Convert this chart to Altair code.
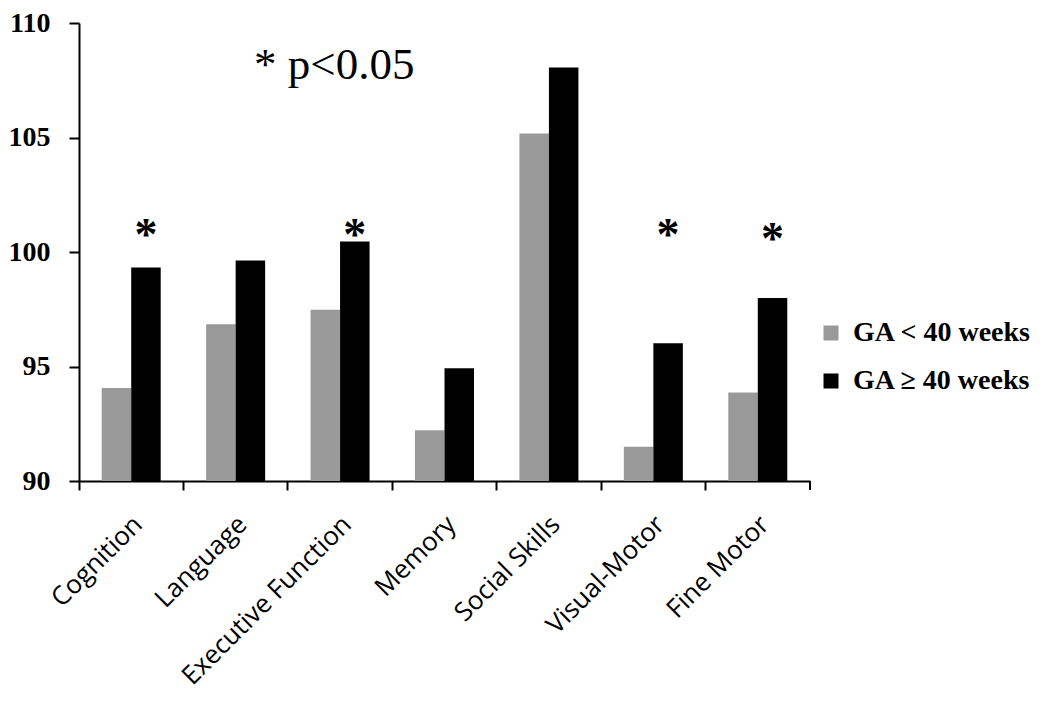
import altair as alt
import pandas as pd

categories = ["Cognition", "Language", "Executive Function", "Memory",
              "Social Skills", "Visual-Motor", "Fine Motor"]
groups = ["GA < 40 weeks", "GA \u2265 40 weeks"]
ga_lt40 = [94.06, 96.85, 97.48, 92.22, 105.18, 91.50, 93.87]
ga_ge40 = [99.32, 99.63, 100.46, 94.92, 108.06, 96.02, 97.99]

star_categories = ["Cognition", "Executive Function", "Visual-Motor", "Fine Motor"]
star_y = [100.97, 100.97, 100.97, 100.80]

y_ticks = [90, 95, 100, 105, 110]
note_text = "* p<0.05"

rows = []
for c, a, b in zip(categories, ga_lt40, ga_ge40):
    rows.append({"category": c, "group": groups[0], "value": a})
    rows.append({"category": c, "group": groups[1], "value": b})
bars_df = pd.DataFrame(rows)
stars_df = pd.DataFrame({"category": star_categories, "group": groups[1], "y": star_y})

W, H = 731, 458
SERIF = "Liberation Serif"

x_enc = alt.X("category:N", sort=categories,
              scale=alt.Scale(domain=categories, paddingInner=0, paddingOuter=0),
              axis=alt.Axis(title=None, labelAngle=-45, labelAlign="right",
                            labelBaseline="middle", labelFont="Open Sans",
                            labelFontSize=26, labelColor="black",
                            labelPadding=30, labelOffset=7, tickSize=9,
                            tickColor="black", tickWidth=2, domainColor="black",
                            domainWidth=2, bandPosition=0, labelLimit=0))
xoff_enc = alt.XOffset("group:N", sort=groups,
                       scale=alt.Scale(domain=groups, paddingInner=0, paddingOuter=0.77))
y_scale = alt.Scale(domain=[90, 110], zero=False, nice=False)

bars = alt.Chart(bars_df).mark_bar().encode(
    x=x_enc,
    xOffset=xoff_enc,
    y=alt.Y("value:Q", scale=y_scale,
            axis=alt.Axis(values=y_ticks, title=None, labelFont=SERIF,
                          labelFontWeight="bold", labelFontSize=28,
                          labelColor="black", labelPadding=19, tickSize=10,
                          tickColor="black", tickWidth=2, domainColor="black",
                          domainWidth=2, grid=False)),
    y2=alt.datum(90),
    color=alt.Color("group:N", sort=groups,
                    scale=alt.Scale(domain=groups, range=["#999999", "#000000"]),
                    legend=alt.Legend(title=None, orient="none", legendX=738,
                                      legendY=296, symbolType="square",
                                      symbolSize=225, symbolStrokeWidth=0,
                                      labelFont=SERIF, labelFontWeight="bold",
                                      labelFontSize=28, labelColor="black",
                                      rowPadding=20, labelOffset=8, labelLimit=0)),
)

stars = alt.Chart(stars_df).mark_text(
    text="*", font=SERIF, fontWeight="bold", fontSize=46,
    baseline="alphabetic", dy=20, color="black"
).encode(
    x=alt.X("category:N", sort=categories),
    xOffset=alt.XOffset("group:N", sort=groups),
    y=alt.Y("y:Q", scale=y_scale),
)

note = alt.Chart(pd.DataFrame({"t": [note_text]})).mark_text(
    font=SERIF, fontSize=45, align="left", baseline="alphabetic", color="black"
).encode(text="t:N", x=alt.value(175), y=alt.value(56))

end_tick = alt.Chart(pd.DataFrame({"t": [0]})).mark_rule(
    color="black", strokeWidth=2
).encode(x=alt.value(W), y=alt.value(H), y2=alt.value(H + 9))

chart = alt.layer(bars, stars, note, end_tick).properties(
    width=W, height=H,
    autosize=alt.AutoSizeParams(type="none"),
    padding={"left": 71, "top": 15, "right": 230, "bottom": 217},
    background="white",
).configure_view(stroke=None)

chart.save("out.html", embed_options={"renderer": "svg", "actions": False})
